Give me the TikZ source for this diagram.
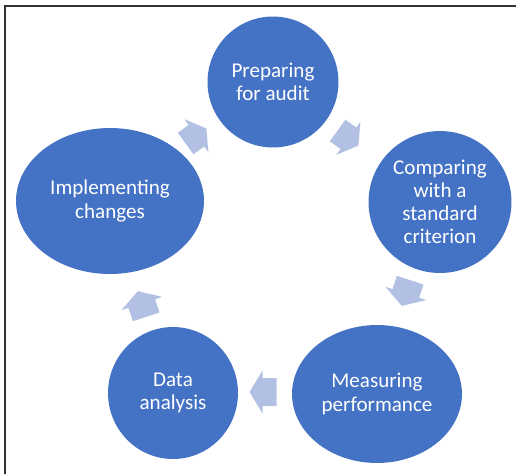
\documentclass[tikz,border=0pt]{standalone}
\usepackage{fontspec}
\setmainfont{Carlito}
\usetikzlibrary{shapes.geometric}

\definecolor{stageblue}{RGB}{68,114,196}
\definecolor{arrowblue}{RGB}{178,193,227}
\definecolor{framegray}{RGB}{50,50,50}

\begin{document}
\begin{tikzpicture}[
    x=0.02cm, y=-0.02cm,
    stage/.style={
        ellipse,
        fill=stageblue,
        text=white,
        inner sep=0pt,
        font=\fontsize{12}{13.2}\selectfont,
        align=center
    },
    cyclearrow/.pic={
        \fill[arrowblue] (-13.5,-14) -- (0.5,-14) -- (0.5,-21.5) -- (13.5,0)
            -- (0.5,21.5) -- (0.5,14) -- (-13.5,14) -- cycle;
    }
]
    \useasboundingbox (0,0) rectangle (516,474);

    % Frame
    \draw[framegray, line width=1.1pt] (5,474) -- (5,6) -- (516,6);

    % Stages of the cycle
    \node[stage, minimum width=2.62cm, minimum height=2.62cm] (prep) at (273,82) {Preparing\\for audit};
    \node[stage, minimum width=2.86cm, minimum height=2.84cm] (comp) at (440,202) {Comparing\\with a\\standard\\criterion};
    \node[stage, minimum width=3.4cm, minimum height=2.76cm] (meas) at (377,394) {Measuring\\performance};
    \node[stage, minimum width=2.6cm, minimum height=2.64cm] (data) at (173,393) {Data\\analysis};
    \node[stage, minimum width=3.76cm, minimum height=2.92cm] (impl) at (110,201) {Implementing\\changes};

    % Arrows between stages
    \pic[rotate=36, scale=0.95] at (196,136) {cyclearrow};
    \pic[rotate=-36, scale=0.95] at (348,138) {cyclearrow};
    \pic[rotate=-108] at (406,293) {cyclearrow};
    \pic[rotate=180] at (263,392) {cyclearrow};
    \pic[rotate=108] at (142,304) {cyclearrow};

\end{tikzpicture}
\end{document}
